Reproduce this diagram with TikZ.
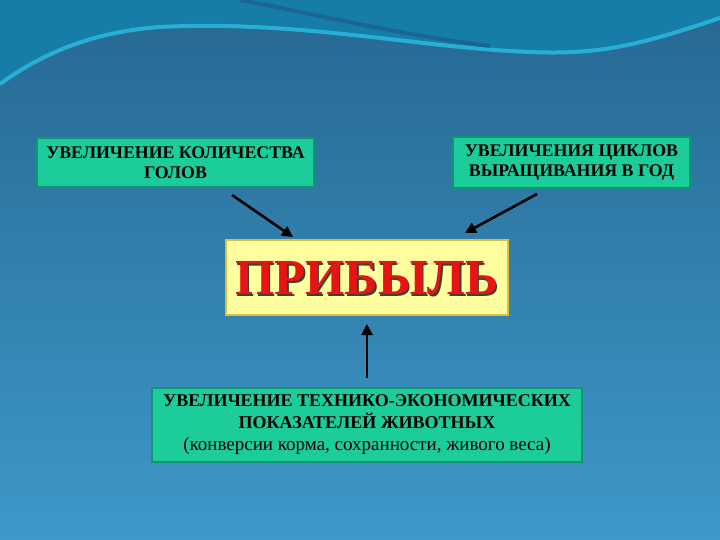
\documentclass[tikz,border=0pt]{standalone}
\usepackage{fontspec}
\setmainfont{Liberation Serif}
\usetikzlibrary{arrows.meta}
\definecolor{bgtop}{RGB}{38,104,146}
\definecolor{bgbot}{RGB}{62,152,202}
\definecolor{wavetop}{RGB}{22,124,168}
\definecolor{wavecyan}{RGB}{40,182,220}
\definecolor{wavedark}{RGB}{28,92,140}
\definecolor{boxgreen}{RGB}{28,204,154}
\definecolor{boxedge}{RGB}{16,150,112}
\definecolor{boxyel}{RGB}{255,255,160}
\definecolor{yeledge}{RGB}{220,190,60}
\definecolor{profit}{RGB}{230,20,20}
\tikzset{
  gbox/.style={draw=boxedge, line width=1.2pt, fill=boxgreen, inner sep=0pt, align=center,
    font=\bfseries\fontsize{17.8}{20}\selectfont, text=black},
  ybox/.style={draw=yeledge, line width=1.5pt, fill=boxyel, inner sep=0pt},
  arr/.style={line width=2.6pt, black, -{Triangle[length=11pt,width=11pt]}}
}
\begin{document}
\begin{tikzpicture}[x=1pt,y=-1pt]
\useasboundingbox (0,0) rectangle (720,540);
% background
\shade[top color=bgtop, bottom color=bgbot] (0,0) rectangle (720,540);
% top wave
\fill[wavetop] (0,0) -- (720,0) -- (720,18)
  .. controls (640,45) and (600,55) .. (530,52)
  .. controls (420,48) and (300,20) .. (160,27)
  .. controls (90,32) and (40,55) .. (0,84) -- cycle;
\draw[wavecyan, line width=4pt, opacity=0.9] (0,84) .. controls (40,55) and (90,32) .. (160,27)
  .. controls (300,20) and (420,48) .. (530,52)
  .. controls (600,55) and (640,45) .. (720,18);
\draw[wavedark, line width=4pt, opacity=0.7] (240,0) .. controls (320,15) and (400,35) .. (490,46);
% boxes
\node[gbox, minimum width=277pt, minimum height=49pt] (left) at (175.5,162.5)
  {УВЕЛИЧЕНИЕ КОЛИЧЕСТВА\\ГОЛОВ};
\node[gbox, minimum width=237pt, minimum height=51pt] (right) at (571.5,162.5)
  {УВЕЛИЧЕНИЯ ЦИКЛОВ\\ВЫРАЩИВАНИЯ В ГОД};
\node[ybox, minimum width=282pt, minimum height=75pt] (mid) at (367,277.5) {};
\node[font=\bfseries\fontsize{50.5}{50}\selectfont, text=black!70!olive] at (368.5,280) {ПРИБЫЛЬ};
\node[font=\bfseries\fontsize{50.5}{50}\selectfont, text=profit] (ptext) at (367,278.5) {ПРИБЫЛЬ};
\node[gbox, minimum width=430pt, minimum height=74pt, font=\bfseries\fontsize{18}{22}\selectfont] (bot) at (367,425)
  {УВЕЛИЧЕНИЕ ТЕХНИКО-ЭКОНОМИЧЕСКИХ\\ПОКАЗАТЕЛЕЙ ЖИВОТНЫХ\\
   {\mdseries\fontsize{19}{22}\selectfont (конверсии корма, сохранности, живого веса)}};
% arrows
\coordinate (l1) at (232,195);
\coordinate (l2) at (293,237);
\coordinate (r1) at (537,194);
\coordinate (r2) at (465,233);
\coordinate (b1) at (367,378);
\coordinate (b2) at (367,324);
\draw[arr] (l1) -- (l2);
\draw[arr] (r1) -- (r2);
\draw[arr] (b1) -- (b2);
\end{tikzpicture}
\end{document}
